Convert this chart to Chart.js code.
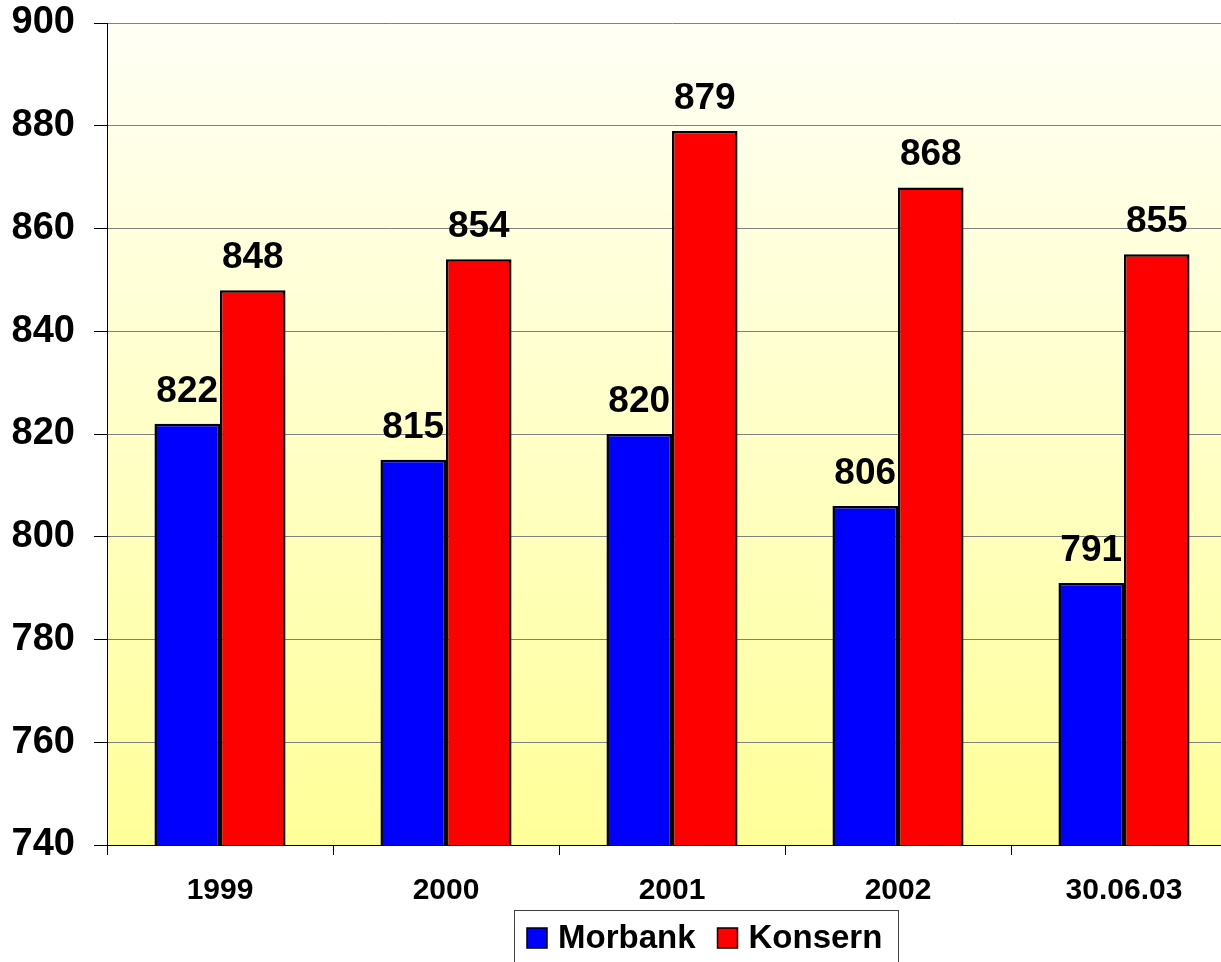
<!DOCTYPE html>
<html>
<head>
<meta charset="utf-8">
<script src="https://cdn.jsdelivr.net/npm/chart.js@4/dist/chart.umd.min.js"></script>
<style>
  html, body { margin: 0; padding: 0; background: #fff; overflow: hidden; }
  #wrap { width: 1240px; height: 962px; }
</style>
</head>
<body>
<div id="wrap"><canvas id="bankChart"></canvas></div>
<script>
const categories = ["1999", "2000", "2001", "2002", "30.06.03"];
const morbank = [822, 815, 820, 806, 791];
const konsern = [848, 854, 879, 868, 855];
const yTicks = { min: 740, max: 900, step: 20 };

const FONT = "'Liberation Sans', Arial, sans-serif";

// gul bakgrunn i plotteområdet
const bgPlugin = {
  id: 'bg',
  beforeDraw(chart) {
    const { ctx, chartArea: a } = chart;
    const g = ctx.createLinearGradient(0, a.top, 0, a.bottom);
    g.addColorStop(0, '#fffff6');
    g.addColorStop(1, '#ffff99');
    ctx.save();
    ctx.fillStyle = g;
    ctx.fillRect(a.left, a.top, a.right - a.left, a.bottom - a.top);
    ctx.restore();
  }
};

// verdier over søylene
const valuePlugin = {
  id: 'values',
  afterDatasetsDraw(chart) {
    const ctx = chart.ctx;
    ctx.save();
    ctx.font = "bold 37px " + FONT;
    ctx.fillStyle = '#000';
    ctx.textAlign = 'center';
    ctx.textBaseline = 'alphabetic';
    chart.data.datasets.forEach((ds, i) => {
      chart.getDatasetMeta(i).data.forEach((bar, j) => {
        ctx.fillText(ds.data[j], bar.x, bar.y - 22);
      });
    });
    ctx.restore();
  }
};

// forklaring med ramme
const legendPlugin = {
  id: 'boxLegend',
  afterDraw(chart) {
    const ctx = chart.ctx;
    ctx.save();
    ctx.fillStyle = '#fff';
    ctx.fillRect(514, 910, 384, 60);
    ctx.strokeStyle = '#404040';
    ctx.lineWidth = 1;
    ctx.strokeRect(514.5, 910.5, 384, 60);
    ctx.font = "bold 33px " + FONT;
    ctx.textBaseline = 'middle';
    ctx.textAlign = 'left';
    let x = 527;
    chart.data.datasets.forEach(ds => {
      ctx.fillStyle = ds.backgroundColor;
      ctx.fillRect(x, 928, 20, 20);
      ctx.strokeStyle = '#000';
      ctx.lineWidth = 1.5;
      ctx.strokeRect(x, 928, 20, 20);
      ctx.fillStyle = '#000';
      ctx.fillText(ds.label, x + 31, 939);
      x += 31 + ctx.measureText(ds.label).width + 22;
    });
    ctx.restore();
  }
};

const ctx = document.getElementById('bankChart').getContext('2d');

new Chart(ctx, {
  type: 'bar',
  data: {
    labels: categories,
    datasets: [
      { label: 'Morbank', data: morbank, backgroundColor: '#0000ff', borderColor: '#000', borderWidth: 2.5 },
      { label: 'Konsern', data: konsern, backgroundColor: '#ff0000', borderColor: '#000', borderWidth: 2.5 }
    ]
  },
  options: {
    responsive: true,
    maintainAspectRatio: false,
    animation: false,
    layout: { padding: { top: 23, right: 3, left: 0, bottom: 0 } },
    datasets: { bar: { categoryPercentage: 0.58, barPercentage: 1 } },
    plugins: {
      legend: { display: false },
      tooltip: { enabled: false }
    },
    scales: {
      x: {
        offset: true,
        afterFit: s => { s.height = 117; },
        grid: { offset: true, drawOnChartArea: false, drawTicks: true, tickLength: 10, tickColor: '#000' },
        border: { color: '#000', width: 1 },
        ticks: { color: '#000', padding: 18, font: { family: FONT, size: 30, weight: 'bold' } }
      },
      y: {
        min: yTicks.min,
        max: yTicks.max,
        afterFit: s => { s.width = 107; s.paddingTop = 0; s.paddingBottom = 0; },
        grid: { color: '#808080', tickColor: '#000', tickLength: 13 },
        border: { color: '#000', width: 1 },
        ticks: { stepSize: yTicks.step, color: '#000', padding: 19, font: { family: FONT, size: 38, weight: 'bold' } }
      }
    }
  },
  plugins: [bgPlugin, valuePlugin, legendPlugin]
});
</script>
</body>
</html>
